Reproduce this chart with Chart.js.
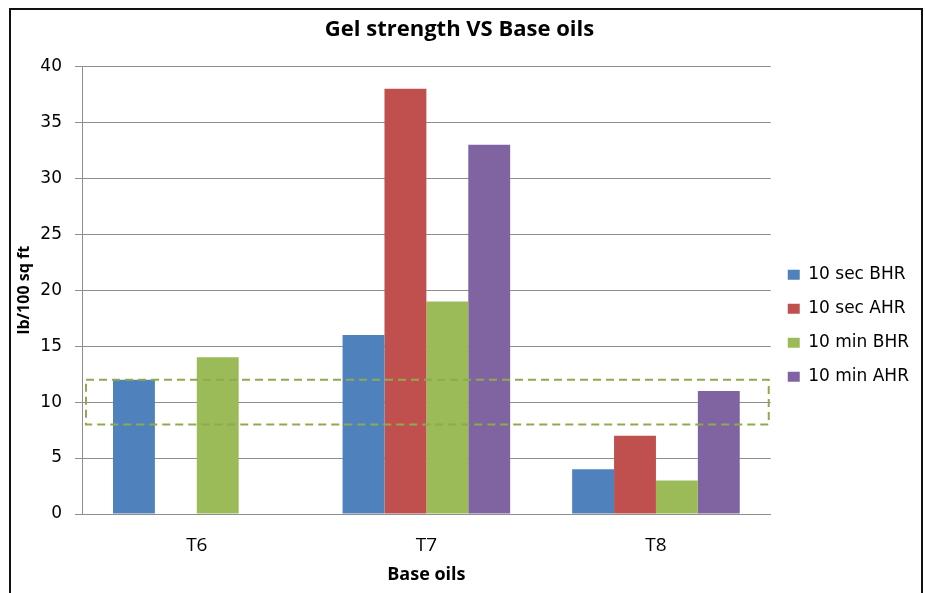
<!DOCTYPE html>
<html>
<head>
<meta charset="utf-8">
<script src="https://cdn.jsdelivr.net/npm/chart.js@4.4.1/dist/chart.umd.min.js"></script>
<style>
  html, body { margin: 0; padding: 0; background: #ffffff; }
  #wrap { width: 925px; height: 593px; position: relative; }
</style>
</head>
<body>
<div id="wrap"><canvas id="chart" width="925" height="593"></canvas></div>
<script>
// Gel strength readings (lb/100 sq ft) per base oil
const baseOils = ['T6', 'T7', 'T8'];
const gel10secBHR = [12, 16, 4];
const gel10secAHR = [null, 38, 7];
const gel10minBHR = [14, 19, 3];
const gel10minAHR = [null, 33, 11];
const seriesNames = ['10 sec BHR', '10 sec AHR', '10 min BHR', '10 min AHR'];
const seriesColors = ['#4F81BD', '#C0504D', '#9BBB59', '#8064A2'];
const yTicks = [0, 5, 10, 15, 20, 25, 30, 35, 40];
// Highlighted band on the value axis (lower, upper)
const highlightBand = [8, 12];

const HEAD_FONT = '"Open Sans", "DejaVu Sans", sans-serif';
const TICK_FONT = '"DejaVu Sans", "Open Sans", sans-serif';
const GRID = '#8e8e8e';

// White background plus the outer frame lines
const framePlugin = {
  id: 'frame',
  beforeDraw(chart) {
    const ctx = chart.ctx;
    ctx.save();
    ctx.fillStyle = '#ffffff';
    ctx.fillRect(0, 0, chart.width, chart.height);
    ctx.restore();
  },
  afterDraw(chart) {
    const ctx = chart.ctx;
    ctx.save();
    ctx.strokeStyle = '#111111';
    ctx.lineWidth = 2;
    ctx.beginPath();
    ctx.moveTo(10, chart.height);
    ctx.lineTo(10, 9);
    ctx.lineTo(922, 9);
    ctx.lineTo(922, chart.height);
    ctx.stroke();
    ctx.restore();
  }
};

// Dashed rectangle spanning the plot across the highlighted band
const bandPlugin = {
  id: 'band',
  afterDatasetsDraw(chart) {
    const { ctx, chartArea, scales } = chart;
    const yTop = scales.y.getPixelForValue(highlightBand[1]);
    const yBot = scales.y.getPixelForValue(highlightBand[0]);
    const x0 = chartArea.left + 4;
    const x1 = chartArea.right - 2;
    ctx.save();
    ctx.strokeStyle = '#8DAA4F';
    ctx.lineWidth = 2;
    ctx.setLineDash([8, 5]);
    ctx.strokeRect(x0, yTop, x1 - x0, yBot - yTop);
    ctx.restore();
  }
};

const seriesData = [gel10secBHR, gel10secAHR, gel10minBHR, gel10minAHR];

new Chart(document.getElementById('chart'), {
  type: 'bar',
  data: {
    labels: baseOils,
    datasets: seriesData.map((values, i) => ({
      label: seriesNames[i],
      data: values,
      backgroundColor: seriesColors[i],
      borderWidth: 0,
      categoryPercentage: 0.73,
      barPercentage: 1.0
    }))
  },
  options: {
    responsive: false,
    animation: false,
    layout: { padding: { top: 0, left: 0, right: 6, bottom: 0 } },
    plugins: {
      title: {
        display: true,
        text: 'Gel strength VS Base oils',
        color: '#000000',
        font: { family: HEAD_FONT, size: 22, weight: 'bold', lineHeight: 1.2 },
        padding: { top: 17, bottom: 23 }
      },
      legend: {
        position: 'right',
        align: 'center',
        title: { display: true, text: ' ', padding: { top: 44, bottom: 0 }, font: { size: 12 } },
        labels: {
          color: '#000000',
          boxWidth: 12,
          boxHeight: 10,
          padding: 17,
          font: { family: TICK_FONT, size: 17 }
        }
      },
      tooltip: { enabled: false }
    },
    scales: {
      x: {
        grid: { display: false, drawTicks: false },
        border: { display: true, color: GRID, width: 1 },
        ticks: {
          color: '#000000',
          padding: 20,
          font: { family: HEAD_FONT, size: 19 }
        },
        title: {
          display: true,
          text: 'Base oils',
          color: '#000000',
          font: { family: HEAD_FONT, size: 18, weight: 'bold', lineHeight: 1.2 },
          padding: { top: 4, bottom: 7 }
        },
        afterFit(scale) { scale.height = 79; }
      },
      y: {
        min: 0,
        max: 40,
        afterBuildTicks(scale) { scale.ticks = yTicks.map(v => ({ value: v })); },
        grid: { color: GRID, lineWidth: 1, tickLength: 7, drawTicks: true },
        border: { display: true, color: GRID, width: 1 },
        ticks: {
          color: '#000000',
          padding: 13,
          font: { family: TICK_FONT, size: 17 }
        },
        title: {
          display: true,
          text: 'lb/100 sq ft',
          color: '#000000',
          font: { family: HEAD_FONT, size: 16, weight: 'bold', lineHeight: 1.2 },
          padding: { top: 15, bottom: 0 }
        },
        afterFit(scale) { scale.width = 82; }
      }
    }
  },
  plugins: [framePlugin, bandPlugin]
});
</script>
</body>
</html>
